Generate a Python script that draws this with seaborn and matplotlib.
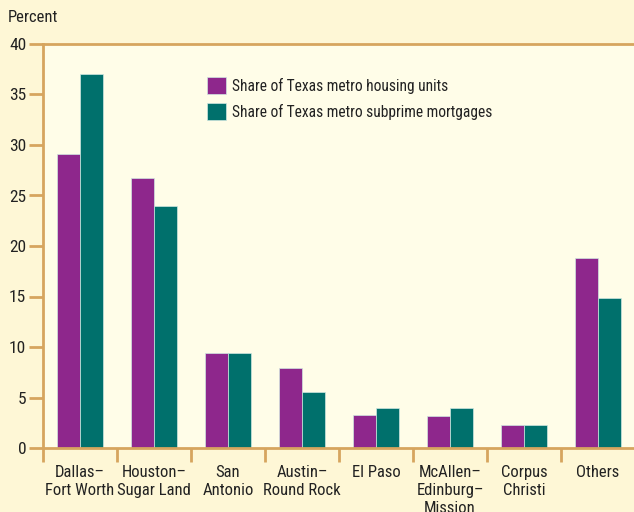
import matplotlib
matplotlib.use("Agg")
import matplotlib.pyplot as plt
import seaborn as sns
import pandas as pd
import numpy as np

categories = ["Dallas–\nFort Worth", "Houston–\nSugar Land", "San\nAntonio", "Austin–\nRound Rock",
              "El Paso", "McAllen–\nEdinburg–\nMission", "Corpus\nChristi", "Others"]
housing = [29.1, 26.7, 9.4, 7.9, 3.3, 3.2, 2.3, 18.8]
subprime = [37.0, 24.0, 9.4, 5.5, 4.0, 4.0, 2.3, 14.9]
series = ["Share of Texas metro housing units", "Share of Texas metro subprime mortgages"]
yticks = [0, 5, 10, 15, 20, 25, 30, 35, 40]

df = pd.DataFrame({
    "cat": categories * 2,
    "val": housing + subprime,
    "series": [series[0]] * len(categories) + [series[1]] * len(categories),
})

sns.set_style("white")
plt.rcParams['font.family'] = ['Roboto Condensed', 'DejaVu Sans']
plt.rcParams['text.color'] = '#222222'
plt.rcParams['xtick.labelcolor'] = '#222222'
plt.rcParams['ytick.labelcolor'] = '#222222'

spine = "#D6A55E"
fig = plt.figure(figsize=(6.34, 5.12), dpi=100, facecolor="#FEF7D6")
ax = fig.add_axes([43/634, 64/512, 592/634, 404/512])
ax.set_facecolor("#FFFDE8")

sns.barplot(data=df, x="cat", y="val", hue="series", order=categories, hue_order=series,
            palette=["#8E278C", "#00706C"], width=0.62, ax=ax, saturation=1,
            edgecolor="#CFE6E0", linewidth=0.5)

ax.set_xlim(-0.5, len(categories) - 0.5)
ax.set_ylim(0, 40)
ax.set_yticks(yticks)
ax.set_yticklabels([str(t) for t in yticks], fontsize=12.5)
ax.tick_params(axis="y", length=10, width=2, color=spine, pad=2, left=True)
ax.set_xticks(range(len(categories)))
ax.set_xticklabels(categories, fontsize=12, linespacing=1.25)
ax.tick_params(axis="x", length=0, pad=12)
ax.set_xticks(np.arange(-0.5, len(categories) - 0.5, 1), minor=True)
ax.tick_params(axis="x", which="minor", length=10, width=2, color=spine, bottom=True)
ax.set_xlabel("")
ax.set_ylabel("")

for s in ["left", "bottom", "top"]:
    ax.spines[s].set_color(spine)
    ax.spines[s].set_linewidth(2)
ax.spines["right"].set_visible(False)

leg = ax.legend(loc="upper left", bbox_to_anchor=(0.253, 0.952), frameon=False, fontsize=11.2,
                handlelength=1.25, handleheight=1.25, handletextpad=0.35, labelspacing=0.6)

fig.text(8/634, 1 - 18/512, "Percent", fontsize=12, va="center", ha="left")

fig.savefig("out.png", dpi=100, facecolor=fig.get_facecolor())
